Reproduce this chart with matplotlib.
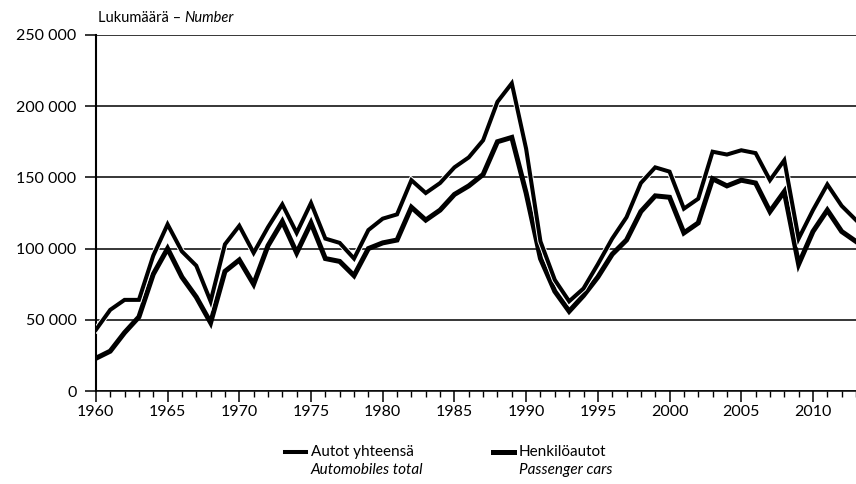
import matplotlib.pyplot as plt
import matplotlib.patheffects as pe
from matplotlib.lines import Line2D
from matplotlib.ticker import FuncFormatter, MultipleLocator

plt.rcParams['font.family'] = ['Lato', 'DejaVu Sans']

years = list(range(1960, 2014))
total = [43000, 57000, 64000, 64000, 95000, 117000, 98000, 88000, 63000, 103000,
         116000, 97000, 115000, 131000, 111000, 132000, 107000, 104000, 93000, 113000,
         121000, 124000, 148000, 139000, 146000, 157000, 164000, 176000, 203000, 216000,
         170000, 105000, 78000, 63000, 72000, 89000, 107000, 122000, 146000, 157000,
         154000, 128000, 135000, 168000, 166000, 169000, 167000, 148000, 162000, 107000,
         127000, 145000, 130000, 120000]
passenger = [23000, 28000, 41000, 52000, 82000, 100000, 80000, 66000, 48000, 84000,
             92000, 75000, 102000, 119000, 97000, 118000, 93000, 91000, 81000, 100000,
             104000, 106000, 129000, 120000, 127000, 138000, 144000, 152000, 175000, 178000,
             139000, 93000, 70000, 56000, 67000, 80000, 96000, 106000, 126000, 137000,
             136000, 111000, 118000, 149000, 144000, 148000, 146000, 126000, 140000, 89000,
             112000, 127000, 112000, 105000]

fig = plt.figure(figsize=(8.56, 4.84), dpi=100)
ax = fig.add_axes([0.112, 0.192, 0.888, 0.736])

ax.plot(years, passenger, color='black', lw=3.6, solid_joinstyle='miter', zorder=3)
ax.plot(years, total, color='black', lw=2.9, solid_joinstyle='miter', zorder=4,
        path_effects=[pe.withStroke(linewidth=4.3, foreground='white')])

ax.set_xlim(1960, 2013)
ax.set_ylim(0, 250000)
ax.yaxis.set_major_locator(MultipleLocator(50000))
ax.yaxis.set_major_formatter(FuncFormatter(lambda v, p: f'{int(v):,}'.replace(',', ' ')))
ax.xaxis.set_major_locator(MultipleLocator(5))
ax.xaxis.set_minor_locator(MultipleLocator(1))
ax.xaxis.set_major_formatter(FuncFormatter(lambda v, p: f'{int(v)}' if v <= 2010 else ''))

ax.grid(axis='y', color='black', lw=1.1)
ax.set_axisbelow(True)
for s in ['top', 'right']:
    ax.spines[s].set_visible(False)
ax.spines['left'].set_linewidth(1.5)
ax.spines['bottom'].set_linewidth(1.1)
ax.tick_params(axis='y', length=8, width=1.1, labelsize=11.5, pad=6)
ax.tick_params(axis='x', which='major', length=8, width=1.1, labelsize=11.5, pad=2)
ax.tick_params(axis='x', which='minor', length=4, width=1.0)

t1 = fig.text(0.114, 0.962, 'Lukumäärä – ', fontsize=10.5, va='center', ha='left')
ax.annotate('Number', xy=(1, 0.5), xycoords=t1, fontsize=10.5, style='italic',
            va='center', ha='left', annotation_clip=False)

# legend drawn by hand to get the two-style labels
for x0, a, b, lw in [(0.333, 'Autot yhteensä', 'Automobiles total', 2.9),
                     (0.576, 'Henkilöautot', 'Passenger cars', 3.6)]:
    fig.add_artist(Line2D([x0, x0 + 0.024], [0.066, 0.066], color='black', lw=lw))
    fig.text(x0 + 0.030, 0.066, a, fontsize=11, va='center', ha='left')
    fig.text(x0 + 0.030, 0.029, b, fontsize=11, style='italic', va='center', ha='left')

fig.savefig('out.png', dpi=100)
